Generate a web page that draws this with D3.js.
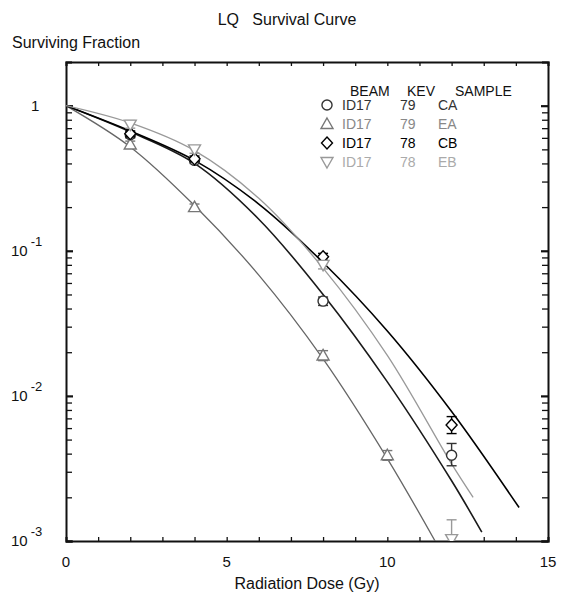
<!DOCTYPE html>
<html>
<head>
<meta charset="utf-8">
<script src="https://cdn.jsdelivr.net/npm/d3@7/dist/d3.min.js"></script>
<style>
  body { margin: 0; background: #fff; }
  text { font-family: "Liberation Sans", Arial, sans-serif; fill: #111; }
</style>
</head>
<body>
<div id="chart"></div>
<script>
// samples
var samples = ["CA", "EA", "CB", "EB"];
var beams = ["ID17", "ID17", "ID17", "ID17"];
var kevs = ["79", "79", "78", "78"];

// measured points (dose, surviving fraction, error bar low / high)
var doseCA = [2, 4, 8, 12];
var sfCA   = [0.63, 0.42, 0.045, 0.0039];
var loCA   = [0.60, 0.40, 0.042, 0.0033];
var hiCA   = [0.66, 0.44, 0.048, 0.0047];

var doseEA = [2, 4, 8, 10];
var sfEA   = [0.54, 0.20, 0.019, 0.0039];
var loEA   = [0.51, 0.19, 0.0175, 0.0036];
var hiEA   = [0.57, 0.21, 0.0205, 0.0042];

var doseCB = [2, 4, 8, 12];
var sfCB   = [0.64, 0.43, 0.091, 0.0063];
var loCB   = [0.61, 0.41, 0.086, 0.0055];
var hiCB   = [0.67, 0.45, 0.096, 0.0072];

var doseEB = [2, 4, 8, 12];
var sfEB   = [0.74, 0.50, 0.080, 0.00103];
var loEB   = [0.70, 0.47, 0.075, 0.0008];
var hiEB   = [0.79, 0.53, 0.085, 0.0014];

// LQ fit curves
var fitDoseCA = [0, 2, 4, 6, 8, 10, 12, 12.94];
var fitSfCA   = [1, 0.66, 0.40, 0.165, 0.050, 0.0125, 0.0026, 0.00115];
var fitDoseEA = [0, 2, 4, 6, 8, 10, 11.53];
var fitSfEA   = [1, 0.52, 0.205, 0.068, 0.018, 0.0037, 0.00096];
var fitDoseCB = [0, 2, 4, 6, 8, 10, 12, 14.1];
var fitSfCB   = [1, 0.67, 0.42, 0.21, 0.083, 0.028, 0.0078, 0.0017];
var fitDoseEB = [0, 2, 4, 6, 8, 10, 12, 12.67];
var fitSfEB   = [1, 0.76, 0.49, 0.23, 0.076, 0.019, 0.0034, 0.002];

// axis labels
var xTickLabels = [0, 5, 10, 15];
var yDecades = [1, 0.1, 0.01, 0.001];
var yDecadeExp = ["", "-1", "-2", "-3"];

var markerColor = {CA: "#333", EA: "#777", CB: "#000", EB: "#999"};
var curveColor  = {CA: "#1a1a1a", EA: "#666", CB: "#000", EB: "#999"};
var textColor   = {CA: "#333", EA: "#888", CB: "#000", EB: "#aaa"};
var shapes = {CA: "circle", EA: "up", CB: "diamond", EB: "down"};

var series = {
  CA: {dose: doseCA, sf: sfCA, lo: loCA, hi: hiCA, fd: fitDoseCA, fs: fitSfCA},
  EA: {dose: doseEA, sf: sfEA, lo: loEA, hi: hiEA, fd: fitDoseEA, fs: fitSfEA},
  CB: {dose: doseCB, sf: sfCB, lo: loCB, hi: hiCB, fd: fitDoseCB, fs: fitSfCB},
  EB: {dose: doseEB, sf: sfEB, lo: loEB, hi: hiEB, fd: fitDoseEB, fs: fitSfEB}
};

// set the dimensions and margins of the graph
var margin = {top: 62, right: 13, bottom: 55, left: 66},
    width = 561 - margin.left - margin.right,
    height = 596 - margin.top - margin.bottom;

var root = d3.select("#chart")
  .append("svg")
    .attr("width", 561)
    .attr("height", 596);

var svg = root.append("g")
    .attr("transform", "translate(" + margin.left + "," + margin.top + ")");

var x = d3.scaleLinear().domain([0, 15]).range([0, width]);
var y = d3.scaleLog().domain([0.001, 2]).range([height, 0]);

svg.append("clipPath").attr("id", "plotclip")
  .append("rect").attr("width", width).attr("height", height);

// ticks: x every 1 Gy, y at 1..9 per decade, all pointing inward
var xMinor = d3.range(0, 16);
var yMinor = y.ticks();

svg.append("g")
    .attr("transform", "translate(0," + height + ")")
    .call(d3.axisBottom(x).tickValues(xMinor).tickSize(-4).tickFormat(""));
svg.append("g")
    .call(d3.axisTop(x).tickValues(xMinor).tickSize(-4).tickFormat(""));
svg.append("g").attr("class", "yax")
    .call(d3.axisLeft(y).tickValues(yMinor).tickSize(-6).tickFormat(""));
svg.append("g").attr("class", "yax")
    .attr("transform", "translate(" + width + ",0)")
    .call(d3.axisRight(y).tickValues(yMinor).tickSize(-6).tickFormat(""));

svg.selectAll(".domain").attr("stroke", "#111").attr("stroke-width", 2);
svg.selectAll(".tick line").attr("stroke", "#111").attr("stroke-width", 1.3);
svg.selectAll(".yax .tick line")
  .filter(d => yDecades.indexOf(d) >= 0)
  .attr("stroke-width", 2.2)
  .attr("x2", function() { return +d3.select(this).attr("x2") > 0 ? 7 : -7; });

// x tick labels
svg.append("g").selectAll("text")
  .data(xTickLabels)
  .enter()
  .append("text")
    .attr("x", d => x(d))
    .attr("y", height + 26)
    .attr("text-anchor", "middle")
    .style("font-size", "15px")
    .text(d => d);

// y tick labels
var ylab = svg.append("g").selectAll("text")
  .data(yDecades)
  .enter()
  .append("text")
    .attr("x", (d, i) => i === 0 ? -35 : -55)
    .attr("y", d => y(d) + 5)
    .style("font-size", "15px");
ylab.append("tspan").text((d, i) => i === 0 ? "1" : "10");
ylab.append("tspan")
    .attr("dx", 3)
    .attr("dy", -10)
    .style("font-size", "13px")
    .text((d, i) => yDecadeExp[i]);

// titles
root.append("text")
    .attr("x", 287)
    .attr("y", 25)
    .attr("text-anchor", "middle")
    .style("font-size", "16px")
    .style("white-space", "pre")
    .text("LQ   Survival Curve");
root.append("text")
    .attr("x", 12)
    .attr("y", 48)
    .style("font-size", "16px")
    .text("Surviving Fraction");
root.append("text")
    .attr("x", margin.left + width / 2)
    .attr("y", 589)
    .attr("text-anchor", "middle")
    .style("font-size", "16px")
    .text("Radiation Dose (Gy)");

function markerPath(shape) {
  if (shape === "circle") return d3.symbol().type(d3.symbolCircle).size(80)();
  if (shape === "up") return "M0,-6L6,4.5L-6,4.5Z";
  if (shape === "down") return "M0,6L6,-4.5L-6,-4.5Z";
  return "M0,-6L5.5,0L0,6L-5.5,0Z";
}

var plot = svg.append("g").attr("clip-path", "url(#plotclip)");

// fit curves
samples.forEach(function(s) {
  var d = series[s];
  var pts = d.fd.map((v, i) => [v, d.fs[i]]);
  plot.append("path")
    .datum(pts)
    .attr("fill", "none")
    .attr("stroke", curveColor[s])
    .attr("stroke-width", s === "EA" || s === "EB" ? 1.3 : 1.6)
    .attr("d", d3.line()
      .x(p => x(p[0]))
      .y(p => y(p[1]))
      .curve(d3.curveCatmullRom.alpha(0.5)));
});

// points with error bars
samples.forEach(function(s) {
  var d = series[s];
  var pts = d.dose.map((v, i) => ({dose: v, sf: d.sf[i], lo: d.lo[i], hi: d.hi[i]}));
  var g = plot.append("g").attr("stroke", markerColor[s]).attr("fill", "none").attr("stroke-width", 1.4);
  g.selectAll(".bar").data(pts).enter().append("line")
    .attr("x1", p => x(p.dose)).attr("x2", p => x(p.dose))
    .attr("y1", p => y(p.lo)).attr("y2", p => y(p.hi));
  g.selectAll(".caplo").data(pts).enter().append("line")
    .attr("x1", p => x(p.dose) - 5).attr("x2", p => x(p.dose) + 5)
    .attr("y1", p => y(p.lo)).attr("y2", p => y(p.lo));
  g.selectAll(".caphi").data(pts).enter().append("line")
    .attr("x1", p => x(p.dose) - 5).attr("x2", p => x(p.dose) + 5)
    .attr("y1", p => y(p.hi)).attr("y2", p => y(p.hi));
  g.selectAll(".mk").data(pts).enter().append("path")
    .attr("d", markerPath(shapes[s]))
    .attr("fill", "#fff")
    .attr("transform", p => "translate(" + x(p.dose) + "," + y(p.sf) + ")");
});

// legend
var leg = root.append("g");
var headers = ["BEAM", "KEV", "SAMPLE"];
var headX = [350, 407, 455];
leg.selectAll(".hd").data(headers).enter().append("text")
    .attr("x", (d, i) => headX[i])
    .attr("y", 96)
    .style("font-size", "14px")
    .text(d => d);
samples.forEach(function(s, i) {
  var yy = 110 + i * 19;
  leg.append("path")
    .attr("d", markerPath(shapes[s]))
    .attr("fill", "none")
    .attr("stroke", markerColor[s])
    .attr("stroke-width", 1.4)
    .attr("transform", "translate(327," + (yy - 5) + ")");
  leg.append("text").attr("x", 342).attr("y", yy).style("font-size", "14px").style("fill", textColor[s]).text(beams[i]);
  leg.append("text").attr("x", 400).attr("y", yy).style("font-size", "14px").style("fill", textColor[s]).text(kevs[i]);
  leg.append("text").attr("x", 438).attr("y", yy).style("font-size", "14px").style("fill", textColor[s]).text(s);
});
</script>
</body>
</html>
